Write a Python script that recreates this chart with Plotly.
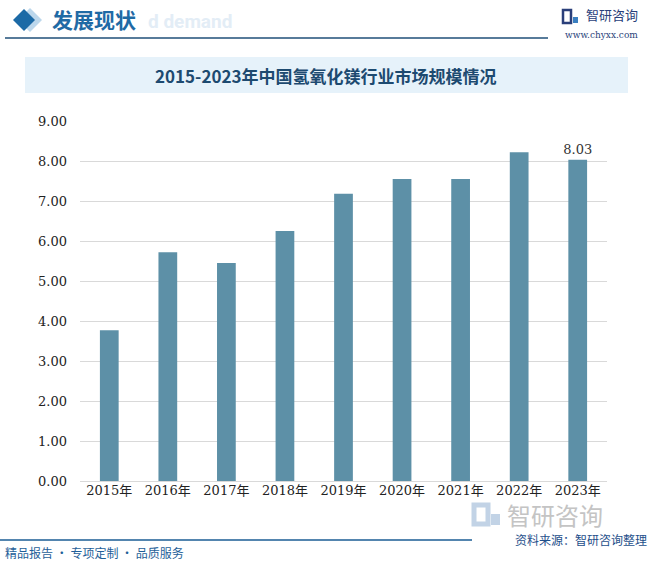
import plotly.graph_objects as go

years = ["2015年", "2016年", "2017年", "2018年", "2019年", "2020年", "2021年", "2022年", "2023年"]
values = [3.77, 5.72, 5.45, 6.25, 7.18, 7.55, 7.55, 8.22, 8.03]
labels = ["", "", "", "", "", "", "", "", "8.03"]
y_ticks = [0, 1, 2, 3, 4, 5, 6, 7, 8, 9]

W, H = 653, 562
L, R, T, B = 80, 46, 121, 81
PW, PH = W - L - R, H - T - B

fig = go.Figure()
fig.add_trace(go.Bar(
    x=years, y=values, width=0.32,
    marker=dict(color="#5d90a7", line=dict(width=0)),
    text=labels, textposition="outside", cliponaxis=False, constraintext="none",
    textfont=dict(family="DejaVu Serif", size=13, color="#333333"),
))

def px(x):
    return (x - L) / PW

def py(y):
    return (H - B - y) / PH

shapes = [
    dict(type="line", xref="paper", yref="paper", x0=px(5), x1=px(548), y0=py(38), y1=py(38),
         line=dict(color="#1f4f78", width=1.5)),
    dict(type="rect", xref="paper", yref="paper", x0=px(25), x1=px(628), y0=py(93), y1=py(57),
         fillcolor="#e6f2fa", line=dict(width=0), layer="below"),
    dict(type="path", xref="paper", yref="paper",
         path=f"M {px(30)} {py(8)} L {px(42)} {py(20)} L {px(30)} {py(32)} L {px(18)} {py(20)} Z",
         fillcolor="#bcd7ec", line=dict(width=0)),
    dict(type="path", xref="paper", yref="paper",
         path=f"M {px(24)} {py(9)} L {px(35)} {py(20)} L {px(24)} {py(31)} L {px(13)} {py(20)} Z",
         fillcolor="#1c6aa6", line=dict(width=0)),
    dict(type="line", xref="paper", yref="paper", x0=px(0), x1=px(472), y0=py(540), y1=py(540),
         line=dict(color="#1a5c94", width=1.5)),
    # top-right logo icon
    dict(type="rect", xref="paper", yref="paper", x0=px(563), x1=px(571), y0=py(23), y1=py(10),
         fillcolor="rgba(0,0,0,0)", line=dict(color="#2a3f7a", width=2.5)),
    dict(type="rect", xref="paper", yref="paper", x0=px(573), x1=px(578), y0=py(23), y1=py(17),
         fillcolor="#3a7fc0", line=dict(width=0)),
    # bottom watermark icon
    dict(type="rect", xref="paper", yref="paper", x0=px(474), x1=px(488), y0=py(524), y1=py(505),
         fillcolor="rgba(0,0,0,0)", line=dict(color="#c2d3e6", width=5)),
    dict(type="rect", xref="paper", yref="paper", x0=px(491), x1=px(500), y0=py(525), y1=py(514),
         fillcolor="#c2d3e6", line=dict(width=0)),
]

annotations = [
    dict(text="<b>d demand</b>", x=px(146), y=py(21), xref="paper", yref="paper", showarrow=False,
         xanchor="left", yanchor="middle", font=dict(family="Roboto", size=19, color="#e3edf6")),
    dict(text="<b>发展现状</b>", x=px(50), y=py(19), xref="paper", yref="paper", showarrow=False,
         xanchor="left", yanchor="middle", font=dict(family="Noto Sans CJK SC", size=21, color="#1f6aa5")),
    dict(text="智研咨询", x=px(584), y=py(15), xref="paper", yref="paper", showarrow=False,
         xanchor="left", yanchor="middle", font=dict(family="Noto Sans CJK SC", size=13, color="#2a3f7a")),
    dict(text="www.chyxx.com", x=px(640), y=py(35), xref="paper", yref="paper", showarrow=False,
         xanchor="right", yanchor="middle", font=dict(family="DejaVu Serif", size=9, color="#2a3f7a")),
    dict(text="<b>2015-2023年中国氢氧化镁行业市场规模情况</b>", x=px(326), y=py(75), xref="paper", yref="paper",
         showarrow=False, xanchor="center", yanchor="middle",
         font=dict(family="Noto Sans CJK SC", size=17, color="#1d4a70")),
    dict(text="智研咨询", x=px(505), y=py(514), xref="paper", yref="paper", showarrow=False,
         xanchor="left", yanchor="middle", font=dict(family="Noto Sans CJK SC", size=24, color="#c4c4c4")),
    dict(text="资料来源：智研咨询整理", x=px(649), y=py(539), xref="paper", yref="paper", showarrow=False,
         xanchor="right", yanchor="middle", font=dict(family="Noto Sans CJK SC", size=12, color="#1d4e8a")),
    dict(text="精品报告 · 专项定制 · 品质服务", x=px(3), y=py(552), xref="paper", yref="paper", showarrow=False,
         xanchor="left", yanchor="middle", font=dict(family="Noto Sans CJK SC", size=12, color="#1f5f99")),
]

fig.update_layout(
    width=W, height=H,
    margin=dict(l=L, r=R, t=T, b=B, pad=0),
    paper_bgcolor="white", plot_bgcolor="white",
    showlegend=False,
    shapes=shapes, annotations=annotations,
    xaxis=dict(showgrid=False, showline=False, ticks="",
               tickfont=dict(family="DejaVu Serif, Noto Sans CJK SC", size=13, color="#222222")),
    yaxis=dict(range=[0, 9], tickvals=y_ticks, tickformat=".2f", showgrid=True, gridcolor="#d9d9d9",
               gridwidth=1, zeroline=True, zerolinecolor="#d9d9d9", zerolinewidth=1, showline=False,
               ticks="", ticklabelstandoff=12,
               tickfont=dict(family="DejaVu Serif", size=13, color="#222222")),
    bargap=0.68,
)

fig.write_html("out.html", config={"displayModeBar": False},
               post_script="document.body.style.margin='0';document.body.style.overflow='hidden';")
